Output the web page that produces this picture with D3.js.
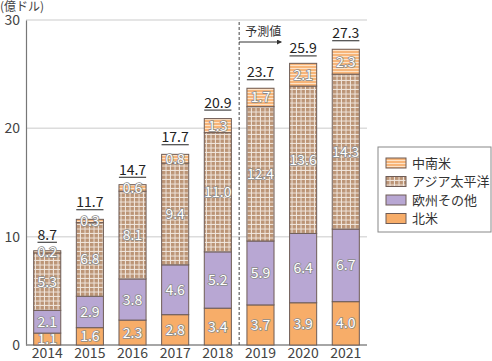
<!DOCTYPE html>
<html>
<head>
<meta charset="utf-8">
<script src="https://cdn.jsdelivr.net/npm/d3@7"></script>
<style>
  body { margin: 0; background: #fff; }
  text { font-family: "Noto Sans CJK JP", "Noto Sans", sans-serif; }
</style>
</head>
<body>
<div id="chart"></div>
<script>
var years = ["2014", "2015", "2016", "2017", "2018", "2019", "2020", "2021"];
var northAmerica = [1.1, 1.6, 2.3, 2.8, 3.4, 3.7, 3.9, 4.0];
var europeOther = [2.1, 2.9, 3.8, 4.6, 5.2, 5.9, 6.4, 6.7];
var asiaPacific = [5.3, 6.8, 8.1, 9.4, 11.0, 12.4, 13.6, 14.3];
var latinAmerica = [0.2, 0.3, 0.6, 0.8, 1.3, 1.7, 2.1, 2.3];
var totals = [8.7, 11.7, 14.7, 17.7, 20.9, 23.7, 25.9, 27.3];
var yTicks = [0, 10, 20, 30];
var seriesNames = ["北米", "欧州その他", "アジア太平洋", "中南米"];
var legendOrder = ["中南米", "アジア太平洋", "欧州その他", "北米"];

var width = 492, height = 361;
var x0 = 26, x1 = 367, yBottom = 345, yTop = 20;

var svg = d3.select("#chart").append("svg")
  .attr("width", width)
  .attr("height", height);

// patterns
var defs = svg.append("defs");
var grid = defs.append("pattern")
  .attr("id", "gridPat")
  .attr("patternUnits", "userSpaceOnUse")
  .attr("width", 4.5).attr("height", 4.5);
grid.append("rect").attr("width", 4.5).attr("height", 4.5).attr("fill", "#bb9476");
grid.append("rect").attr("x", 3.5).attr("width", 1).attr("height", 4.5).attr("fill", "#f1e7de");
grid.append("rect").attr("y", 3.5).attr("width", 4.5).attr("height", 1).attr("fill", "#f1e7de");

var stripe = defs.append("pattern")
  .attr("id", "stripePat")
  .attr("patternUnits", "userSpaceOnUse")
  .attr("width", 4).attr("height", 3);
stripe.append("rect").attr("width", 4).attr("height", 3).attr("fill", "#f7b579");
stripe.append("rect").attr("y", 2).attr("width", 4).attr("height", 1).attr("fill", "#fde3c8");

var fills = {
  "北米": "#f7ad69",
  "欧州その他": "#b8a7d3",
  "アジア太平洋": "url(#gridPat)",
  "中南米": "url(#stripePat)"
};

var xScale = d3.scaleBand()
  .domain(years)
  .range([x0, x1])
  .paddingInner(0.365)
  .paddingOuter(0.18);

var yScale = d3.scaleLinear()
  .domain([0, 30])
  .range([yBottom, yTop]);

// gridlines
svg.append("g")
  .selectAll("line")
  .data(yTicks.filter(d => d > 0))
  .enter()
  .append("line")
  .attr("x1", x0).attr("x2", x1)
  .attr("y1", d => yScale(d)).attr("y2", d => yScale(d))
  .attr("stroke", "#dcdcdc")
  .attr("stroke-width", 1.5);

// y axis
var yAxis = d3.axisLeft(yScale).tickValues(yTicks).tickSize(0).tickPadding(6);
var yg = svg.append("g")
  .attr("transform", `translate(${x0},0)`)
  .call(yAxis);
yg.select(".domain").attr("stroke", "#777").attr("stroke-width", 1.2);
yg.selectAll("text").attr("font-size", 14).attr("fill", "#444")
  .style("font-family", "'Noto Sans CJK JP', sans-serif");

// x axis
var xAxis = d3.axisBottom(xScale).tickSize(0).tickPadding(3);
var xg = svg.append("g")
  .attr("transform", `translate(0,${yBottom})`)
  .call(xAxis);
xg.select(".domain").attr("stroke", "#888").attr("stroke-width", 1.5)
  .attr("d", `M${x0},0H${x1}`);
xg.selectAll("text").attr("font-size", 14).attr("fill", "#444")
  .style("font-family", "'Noto Sans CJK JP', sans-serif");

// unit label
svg.append("text")
  .attr("x", 0).attr("y", 11)
  .attr("font-size", 12).attr("fill", "#444")
  .text("(億ドル)");

// stacked data
var table = years.map((y, i) => ({
  year: y,
  "北米": northAmerica[i],
  "欧州その他": europeOther[i],
  "アジア太平洋": asiaPacific[i],
  "中南米": latinAmerica[i]
}));
var stacked = d3.stack().keys(seriesNames)(table);

var layers = svg.append("g").selectAll("g")
  .data(stacked)
  .enter()
  .append("g");

layers.selectAll("rect")
  .data(d => d.map(p => ({key: d.key, p: p})))
  .enter()
  .append("rect")
  .attr("x", d => xScale(d.p.data.year))
  .attr("y", d => yScale(d.p[1]))
  .attr("width", xScale.bandwidth())
  .attr("height", d => yScale(d.p[0]) - yScale(d.p[1]))
  .attr("fill", d => fills[d.key])
  .attr("stroke", "#6e5c56")
  .attr("stroke-width", 1);

// segment labels
layers.selectAll("text")
  .data(d => d.map(p => ({key: d.key, p: p})))
  .enter()
  .append("text")
  .attr("x", d => xScale(d.p.data.year) + xScale.bandwidth() / 2)
  .attr("y", d => (yScale(d.p[0]) + yScale(d.p[1])) / 2)
  .attr("dy", "0.36em")
  .attr("text-anchor", "middle")
  .attr("font-size", 14)
  .attr("fill", "#fff")
  .attr("stroke", "#8c8c8c")
  .attr("stroke-width", 1.6)
  .style("paint-order", "stroke")
  .text(d => d.p.data[d.key].toFixed(1));

// totals with underline
var tot = svg.append("g").selectAll("g")
  .data(totals)
  .enter()
  .append("g");
tot.append("text")
  .attr("x", (d, i) => xScale(years[i]) + xScale.bandwidth() / 2)
  .attr("y", d => yScale(d) - 11)
  .attr("text-anchor", "middle")
  .attr("font-size", 14)
  .attr("fill", "#222")
  .text(d => d.toFixed(1));
tot.each(function(d, i) {
  var w = d3.select(this).select("text").node().getComputedTextLength();
  var cx = xScale(years[i]) + xScale.bandwidth() / 2;
  d3.select(this).append("line")
    .attr("x1", cx - w / 2).attr("x2", cx + w / 2)
    .attr("y1", yScale(d) - 8.5).attr("y2", yScale(d) - 8.5)
    .attr("stroke", "#222")
    .attr("stroke-width", 1);
});

// forecast divider
var divX = (xScale("2018") + xScale.bandwidth() + xScale("2019")) / 2;
svg.append("line")
  .attr("x1", divX).attr("x2", divX)
  .attr("y1", yTop + 2).attr("y2", yBottom)
  .attr("stroke", "#444")
  .attr("stroke-dasharray", "3,2");
svg.append("text")
  .attr("x", divX + 6).attr("y", 36)
  .attr("font-size", 12).attr("fill", "#333")
  .text("予測値");
defs.append("marker")
  .attr("id", "arrow")
  .attr("viewBox", "0 0 6 6")
  .attr("refX", 5).attr("refY", 3)
  .attr("markerWidth", 5).attr("markerHeight", 5)
  .attr("orient", "auto")
  .append("path").attr("d", "M0,0L6,3L0,6Z").attr("fill", "#333");
svg.append("line")
  .attr("x1", divX).attr("x2", divX + 42)
  .attr("y1", 42).attr("y2", 42)
  .attr("stroke", "#333")
  .attr("marker-end", "url(#arrow)");

// legend
var lg = svg.append("g").attr("transform", "translate(378,147)");
lg.append("rect")
  .attr("width", 113).attr("height", 85)
  .attr("fill", "#fff")
  .attr("stroke", "#888");
var items = lg.selectAll("g.item")
  .data(legendOrder)
  .enter()
  .append("g")
  .attr("class", "item")
  .attr("transform", (d, i) => `translate(8,${11 + i * 18.5})`);
items.append("rect")
  .attr("width", 20).attr("height", 10)
  .attr("fill", d => fills[d])
  .attr("stroke", "#6e5c56");
items.append("text")
  .attr("x", 26).attr("y", 5)
  .attr("dy", "0.36em")
  .attr("font-size", 13)
  .attr("fill", "#333")
  .text(d => d);
</script>
</body>
</html>
